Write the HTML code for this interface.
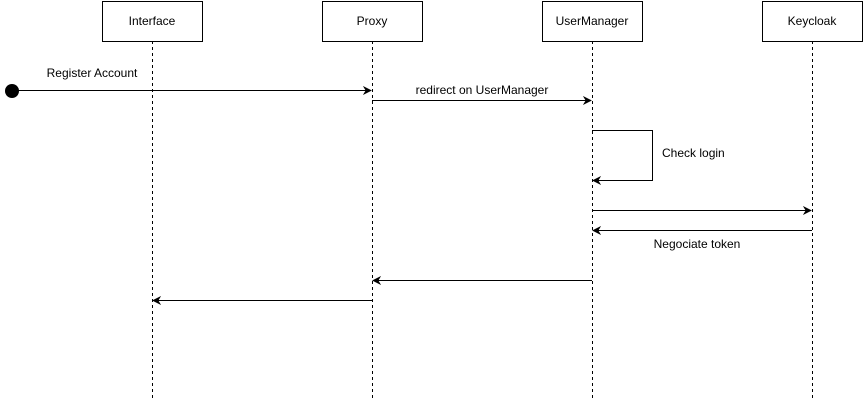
<!DOCTYPE html>
<html><head><style>
html,body{margin:0;padding:0;background:#fff;}
svg{display:block;}
text{font-family:"Liberation Sans",Helvetica,Arial,sans-serif;font-size:12px;fill:#000;}
</style></head><body>
<svg width="864" height="401" viewBox="0 0 864 401" xmlns="http://www.w3.org/2000/svg">
<defs>
<marker id="a" viewBox="0 0 10 10" refX="9" refY="5" markerWidth="9" markerHeight="9" markerUnits="userSpaceOnUse" orient="auto">
<path d="M0,0 L10,5 L0,10 L3,5 Z" fill="#000"/>
</marker>
</defs>
<g stroke="#000" stroke-width="1" stroke-dasharray="3,3" fill="none">
<line x1="152.5" y1="41" x2="152.5" y2="401"/>
<line x1="372.5" y1="41" x2="372.5" y2="401"/>
<line x1="592.5" y1="41" x2="592.5" y2="401"/>
<line x1="812.5" y1="41" x2="812.5" y2="401"/>
</g>
<g stroke="#000" stroke-width="1" fill="#fff">
<rect x="102.5" y="1.5" width="100" height="40"/>
<rect x="322.5" y="1.5" width="100" height="40"/>
<rect x="542.5" y="1.5" width="100" height="40"/>
<rect x="762.5" y="1.5" width="100" height="40"/>
</g>
<g text-anchor="middle">
<text x="152" y="25">Interface</text>
<text x="372" y="25">Proxy</text>
<text x="592" y="25">UserManager</text>
<text x="812" y="25">Keycloak</text>
</g>
<circle cx="12" cy="91" r="7" fill="#000"/>
<g stroke="#000" stroke-width="1" fill="none" marker-end="url(#a)">
<line x1="12" y1="90.5" x2="371" y2="90.5"/>
<line x1="372" y1="100.5" x2="591" y2="100.5"/>
<polyline points="592,130.5 652.5,130.5 652.5,180.5 593,180.5"/>
<line x1="592" y1="210.5" x2="811" y2="210.5"/>
<line x1="812" y1="230.5" x2="593" y2="230.5"/>
<line x1="592" y1="280.5" x2="373" y2="280.5"/>
<line x1="372" y1="300.5" x2="153" y2="300.5"/>
</g>
<text x="92" y="77" text-anchor="middle">Register Account</text>
<text x="482" y="94" text-anchor="middle">redirect on UserManager</text>
<text x="662" y="157">Check login</text>
<text x="697" y="248" text-anchor="middle">Negociate token</text>
</svg>
</body></html>
